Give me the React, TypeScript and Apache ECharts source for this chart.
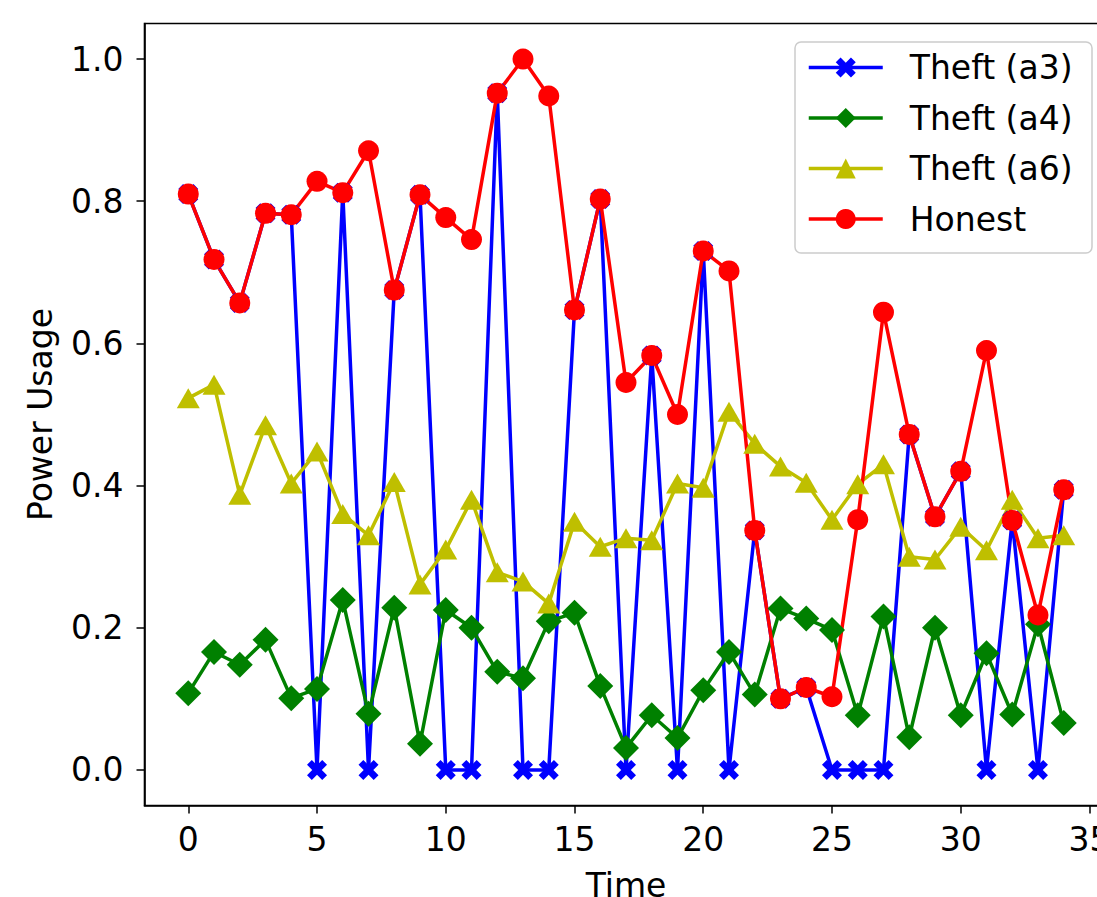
import React, { useEffect, useRef } from "react";
import * as echarts from "echarts";

const timeSteps = [0, 1, 2, 3, 4, 5, 6, 7, 8, 9, 10, 11, 12, 13, 14, 15, 16, 17, 18, 19, 20, 21, 22, 23, 24, 25, 26, 27, 28, 29, 30, 31, 32, 33, 34];

const theftA3 = [0.810, 0.718, 0.657, 0.783, 0.781, 0, 0.812, 0, 0.675, 0.809, 0, 0, 0.952, 0, 0, 0.647, 0.803, 0, 0.583, 0, 0.730, 0, 0.337, 0.100, 0.116, 0, 0, 0, 0.472, 0.356, 0.420, 0, 0.351, 0, 0.394];
const theftA4 = [0.108, 0.166, 0.148, 0.183, 0.101, 0.114, 0.239, 0.079, 0.228, 0.037, 0.225, 0.200, 0.138, 0.129, 0.209, 0.221, 0.118, 0.031, 0.077, 0.045, 0.112, 0.166, 0.106, 0.227, 0.213, 0.197, 0.077, 0.216, 0.046, 0.200, 0.077, 0.164, 0.078, 0.205, 0.066];
const theftA6 = [0.523, 0.542, 0.387, 0.485, 0.403, 0.448, 0.360, 0.330, 0.405, 0.261, 0.310, 0.380, 0.278, 0.265, 0.234, 0.349, 0.314, 0.326, 0.323, 0.403, 0.397, 0.504, 0.459, 0.427, 0.404, 0.352, 0.402, 0.430, 0.300, 0.296, 0.342, 0.309, 0.380, 0.326, 0.330];
const honest = [0.810, 0.718, 0.657, 0.783, 0.781, 0.828, 0.812, 0.871, 0.675, 0.809, 0.777, 0.746, 0.952, 1.000, 0.948, 0.647, 0.803, 0.545, 0.583, 0.500, 0.730, 0.702, 0.337, 0.100, 0.116, 0.103, 0.352, 0.644, 0.472, 0.356, 0.420, 0.590, 0.351, 0.218, 0.394];

const xTicks = [0, 5, 10, 15, 20, 25, 30, 35];
const yTicks = [0, 0.2, 0.4, 0.6, 0.8, 1.0];

const seriesNames = ["Theft (a3)", "Theft (a4)", "Theft (a6)", "Honest"];
const seriesColors = ["#0000ff", "#008000", "#bfbf00", "#ff0000"];

const FONT = "DejaVu Sans";
const X_SYMBOL = "path://M0 24 L24 0 L50 26 L76 0 L100 24 L74 50 L100 76 L76 100 L50 74 L24 100 L0 76 L26 50 Z";

function pairs(vals: number[]) {
  return timeSteps.map((t, i) => [t, vals[i]]);
}

export default function App() {
  const ref = useRef<HTMLDivElement>(null);
  useEffect(() => {
    if (!ref.current) return;
    const chart = echarts.init(ref.current, null, { renderer: "svg" });
    const symbols = [X_SYMBOL, "diamond", "triangle", "circle"];
    const sizes: any[] = [20, [26, 26], [23, 20], 21];
    const values = [theftA3, theftA4, theftA6, honest];
    chart.setOption({
      animation: false,
      backgroundColor: "#ffffff",
      textStyle: { fontFamily: FONT },
      grid: {
        left: 144.5,
        top: 23.5,
        width: 963,
        height: 782,
        outerBoundsMode: "none",
        containLabel: false,
        show: true,
        borderColor: "#000",
        borderWidth: 1.6,
        backgroundColor: "transparent",
      },
      xAxis: {
        type: "value",
        min: -1.7,
        max: 35.7,
        name: "Time",
        nameLocation: "middle",
        nameGap: 63,
        nameTextStyle: { fontFamily: FONT, fontSize: 33, color: "#000" },
        axisLine: { show: true, onZero: false, lineStyle: { color: "#000", width: 1.6 } },
        axisTick: { show: true, inside: false, length: 8, customValues: xTicks, lineStyle: { color: "#000", width: 1.5 } },
        axisLabel: { show: true, customValues: xTicks, margin: 17, fontFamily: FONT, fontSize: 33, color: "#000", formatter: (v: number) => String(v) },
        splitLine: { show: false },
      },
      yAxis: {
        type: "value",
        min: -0.05,
        max: 1.05,
        name: "Power Usage",
        nameLocation: "middle",
        nameGap: 88,
        nameRotate: 90,
        nameTextStyle: { fontFamily: FONT, fontSize: 33, color: "#000" },
        axisLine: { show: true, onZero: false, lineStyle: { color: "#000", width: 1.6 } },
        axisTick: { show: true, inside: false, length: 8, customValues: yTicks, lineStyle: { color: "#000", width: 1.5 } },
        axisLabel: { show: true, customValues: yTicks, margin: 21, fontFamily: FONT, fontSize: 33, color: "#000", formatter: (v: number) => v.toFixed(1) },
        splitLine: { show: false },
      },
      legend: {
        show: true,
        orient: "vertical",
        left: 795,
        top: 42,
        padding: [9, 10, 10, 12],
        itemWidth: 74,
        itemHeight: 25,
        itemGap: 17.5,
        data: seriesNames,
        lineStyle: { width: 3.5 },
        textStyle: { fontFamily: FONT, fontSize: 33, color: "#000", padding: [0, 0, 0, 22] },
      },
      graphic: [
        {
          type: "rect",
          z: 3,
          shape: { x: 795, y: 42, width: 297, height: 211, r: 6 },
          style: { fill: "rgba(255,255,255,0.8)", stroke: "#cccccc", lineWidth: 1.5 },
        },
      ],
      series: seriesNames.map((name, i) => ({
        name,
        type: "line",
        data: pairs(values[i]),
        symbol: symbols[i],
        symbolSize: sizes[i],
        showAllSymbol: true,
        lineStyle: { color: seriesColors[i], width: 3.5 },
        itemStyle: { color: seriesColors[i], borderWidth: 0 },
        emphasis: { disabled: true },
        clip: false,
      })),
    });
    return () => chart.dispose();
  }, []);
  return (
    <div
      ref={ref}
      style={{ position: "fixed", left: 0, top: 0, width: 1097, height: 897, background: "#fff" }}
    />
  );
}
